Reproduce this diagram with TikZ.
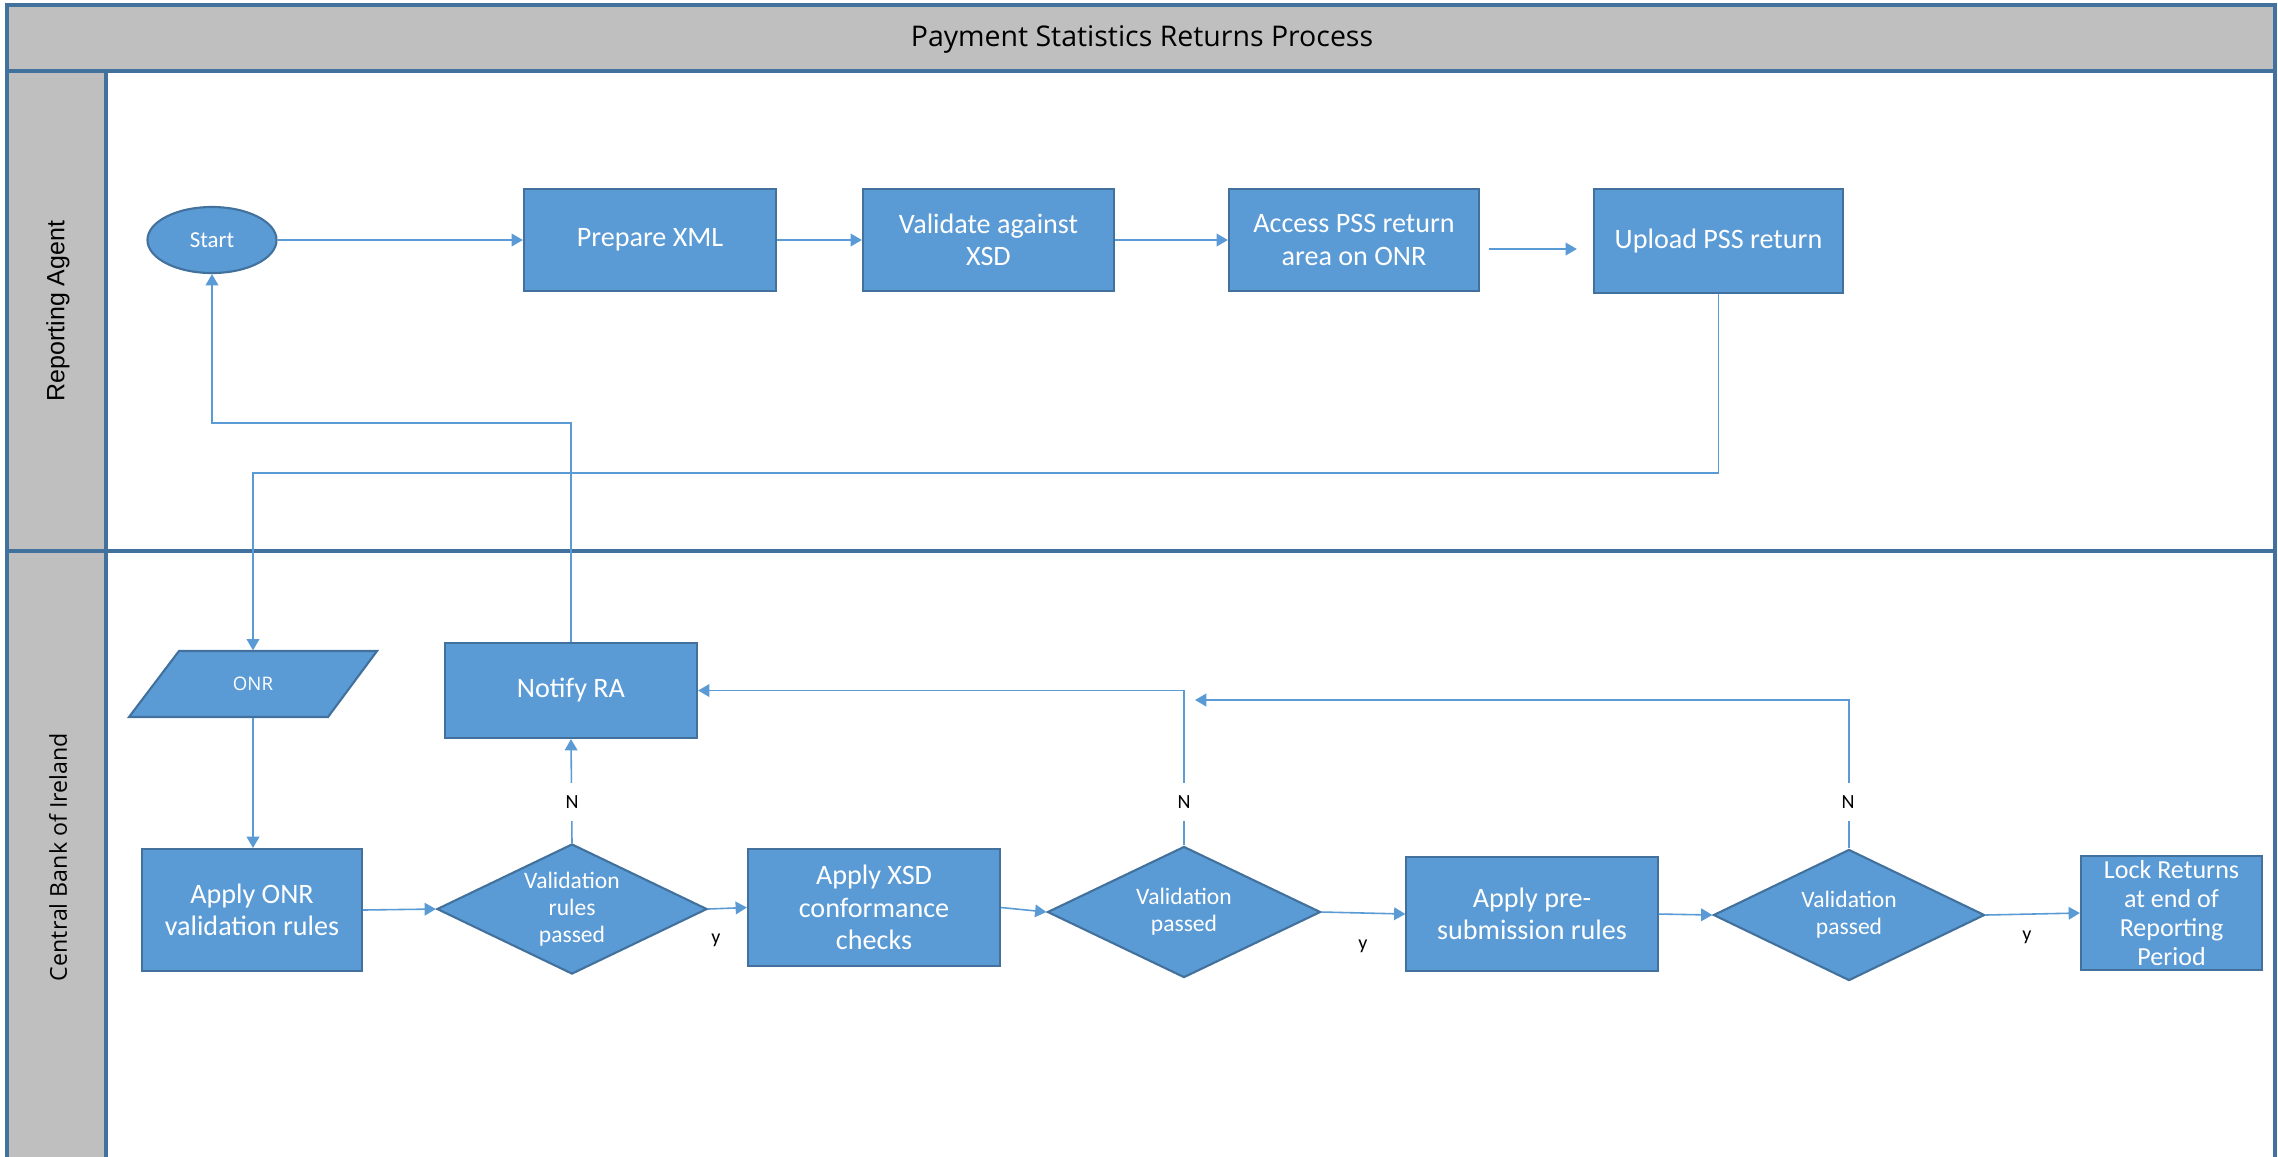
\documentclass[tikz,border=0pt]{standalone}
\usepackage{fontspec}
\setmainfont{Carlito}
\newfontfamily\osans{Open Sans}
\newfontfamily\lsans{Liberation Sans}
\usetikzlibrary{arrows.meta,shapes.geometric,calc}
\definecolor{boxfill}{HTML}{5B9BD5}
\definecolor{boxline}{HTML}{41719C}
\definecolor{laneline}{HTML}{41719C}
\definecolor{lanegrey}{HTML}{BFBFBF}
\definecolor{connc}{HTML}{5B9BD5}
\begin{document}
\begin{tikzpicture}[x=0.01cm,y=-0.01cm,
  lane/.style={draw=laneline,line width=0.9pt},
  lanehead/.style={draw=laneline,fill=lanegrey,line width=0.9pt},
  box/.style={draw=boxline,fill=boxfill,line width=0.6pt,text=white,align=center,inner sep=0pt,font=\fontsize{8}{9.2}\selectfont},
  dec/.style={diamond,draw=boxline,fill=boxfill,line width=0.6pt,inner sep=0pt},
  dectext/.style={text=white,align=center,inner sep=0pt,font=\fontsize{6.7}{7.6}\selectfont},
  conn/.style={draw=connc,line width=0.45pt,-{Triangle[length=3.2pt,width=3.6pt]}},
  lbl/.style={font=\fontsize{5.7}{6.8}\selectfont,text=black,inner sep=1pt},
  nlbl/.style={lbl,fill=white,inner xsep=2pt,inner ysep=3.5pt},
  onrshape/.style={draw=boxline,fill=boxfill,line width=0.6pt}
]
\useasboundingbox (0,0) rectangle (2278,1156);
% lanes
\draw[lane,fill=white] (7,71) rectangle (2275,551);
\draw[lane,fill=white] (7,1180) -- (7,551) -- (2275,551) -- (2275,1180);
\draw[lanehead] (7,71) rectangle (106,551);
\draw[lanehead] (7,1180) -- (7,551) -- (106,551) -- (106,1180);
\draw[lanehead] (7,5) rectangle (2275,71);
\node[font=\osans\fontsize{8.1}{9.5}\selectfont] (title) at (1142,39) {Payment Statistics Returns Process};
\node[rotate=90,font=\lsans\fontsize{7.1}{8.5}\selectfont] (lra) at (58,311) {Reporting Agent};
\node[rotate=90,font=\osans\fontsize{6.6}{8}\selectfont] (lcb) at (58,857) {Central Bank of Ireland};

% lane 1 nodes
\node[ellipse,draw=boxline,fill=boxfill,line width=0.6pt,text=white,inner sep=0pt,minimum width=1.29cm,minimum height=0.66cm,font=\fontsize{6.5}{7.5}\selectfont] (start) at (212,240) {Start};
\node[box,minimum width=2.52cm,minimum height=1.02cm] (prep) at (650,240) {Prepare XML};
\node[box,minimum width=2.51cm,minimum height=1.02cm] (val) at (988.5,240) {Validate against\\XSD};
\node[box,minimum width=2.50cm,minimum height=1.02cm] (access) at (1354,240) {Access PSS return\\area on ONR};
\node[box,minimum width=2.49cm,minimum height=1.04cm] (upload) at (1718.5,241) {Upload PSS return};

% lane 2 nodes
\path[onrshape] (179,651) -- (377,651) -- (328,717) -- (129,717) -- cycle;
\node[inner sep=0pt,minimum width=1.98cm,minimum height=0.66cm,text=white,font=\osans\fontsize{5.3}{6}\selectfont] (onr) at (253,684) {ONR};
\node[box,minimum width=2.20cm,minimum height=1.22cm] (applyonr) at (252,910) {Apply ONR\\validation rules};
\node[box,minimum width=2.52cm,minimum height=0.95cm] (notify) at (571,690.5) {Notify RA};
\node[dec,minimum width=2.70cm,minimum height=1.30cm,label={[dectext]center:Validation\\rules\\passed}] (d1) at (572,909) {};
\node[box,minimum width=2.52cm,minimum height=1.17cm] (applyxsd) at (874,907.5) {Apply XSD\\conformance\\checks};
\node[dec,minimum width=2.73cm,minimum height=1.31cm,label={[dectext]center:Validation\\passed}] (d2) at (1184,912) {};
\node[box,minimum width=2.51cm,minimum height=1.14cm] (pre) at (1532,914) {Apply pre-\\submission rules};
\node[dec,minimum width=2.71cm,minimum height=1.31cm,label={[dectext]center:Validation\\passed}] (d3) at (1849,915) {};
\node[box,minimum width=1.81cm,minimum height=1.14cm,font=\fontsize{7.4}{8.3}\selectfont] (lock) at (2171.5,913) {Lock Returns\\at end of\\Reporting\\Period};

% helper coordinates
\coordinate (ry1) at (0,473);
\coordinate (ry2) at (0,423);
\coordinate (n3end) at (1195,700);

% connectors lane 1
\draw[conn] (start) -- (prep);
\draw[conn] (prep) -- (val);
\draw[conn] (val) -- (access);
\draw[conn] ($(access.east)+(9,9)$) -- ($(upload.west)+(-16,8)$);
\draw[conn] (upload.south) |- (onr.north |- ry1) -- (onr.north);
\draw[conn] (notify.north) |- (start.south |- ry2) -- (start.south);

% connectors lane 2
\draw[conn] (onr.south) -- (onr.south |- applyonr.north);
\draw[conn] (applyonr.east) -- (d1.west);
\draw[conn] (d1.north) -- (notify.south);
\draw[conn] (d1.east) -- (applyxsd.west);
\draw[conn] (applyxsd.east) -- (d2.west);
\draw[conn] (d2.north) |- (notify.east);
\draw[conn] (d2.east) -- (pre.west);
\draw[conn] (pre.east) -- (d3.west);
\draw[conn] (d3.north) |- (n3end);
\draw[conn] (d3.east) -- (lock.west);

% labels
\node[nlbl] (n1) at (572,802) {N};
\node[nlbl] (n2) at (1184,802) {N};
\node[nlbl] (n3) at (1848,802) {N};
\node[lbl] (y1) at (716,940) {y};
\node[lbl] (y2) at (1363,946) {y};
\node[lbl] (y3) at (2027,937) {y};
\end{tikzpicture}
\end{document}
